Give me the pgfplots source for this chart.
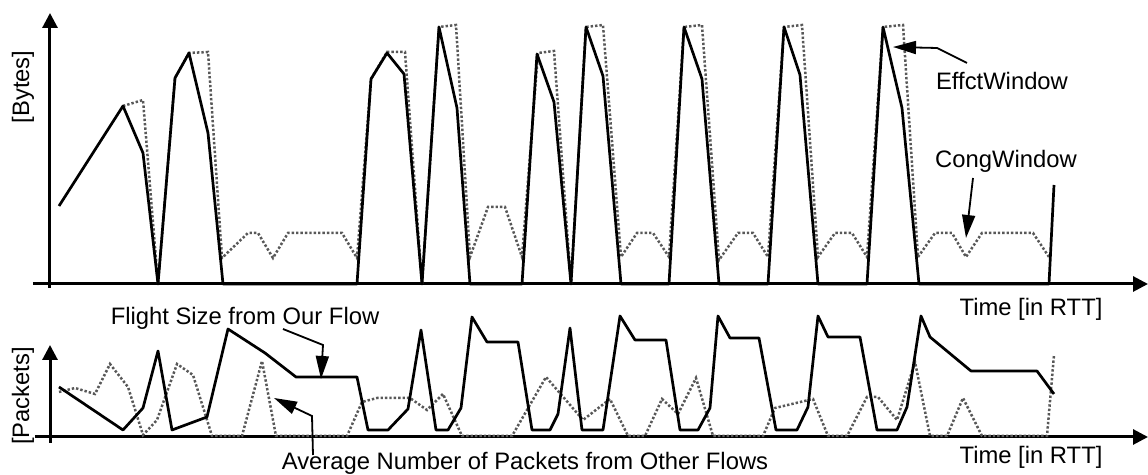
\documentclass[border=0pt]{standalone}
\usepackage{fontspec}
\setmainfont{Liberation Sans}
\usepackage{pgfplots}
\pgfplotsset{compat=1.18}
\usetikzlibrary{arrows.meta}

\definecolor{cwgray}{RGB}{88,88,88}

\pgfplotsset{
  sketch/.style={
    x=0.5pt, y=0.5pt,
    axis lines=middle,
    axis line style={line width=1.5pt, -{Triangle[length=7.5pt,width=7.5pt]}},
    xtick=\empty, ytick=\empty,
    clip=false,
    anchor=south west,
  },
}
\tikzset{
  eff/.style={black, line width=1.35pt, line join=round},
  cong/.style={cwgray, line width=1.25pt, dash pattern=on 1.2pt off 1pt},
  note/.style={font=\fontsize{11.9}{14}\selectfont},
  pointer/.style={line width=0.9pt, -{Triangle[length=11.5pt,width=6.5pt]}},
}

\begin{document}
\begin{tikzpicture}
\useasboundingbox (0,0) rectangle (574pt,237.5pt);

% top panel: windows in bytes
\begin{axis}[sketch, at={(16.5pt,93.5pt)},
    xmin=-17, xmax=1098, ymin=-4, ymax=271]
\addplot[cong] coordinates {
 (73,178) (93,184) (108,0) (125,206) (139,231) (158,232) (172,26) (198,51) (208,51)
 (223,26) (238,51) (292,51) (307,26) (321,205) (337,232) (355,232) (372,0) (389,257)
 (406,259) (420,27) (438,77) (455,77) (472,27) (488,231) (504,233) (521,0) (536,257)
 (553,259) (571,27) (587,51) (603,51) (619,27) (634,257) (652,259) (669,24) (688,51)
 (703,51) (718,27) (734,257) (752,259) (768,27) (785,51) (802,51) (817,27) (833,257)
 (853,259) (868,27) (885,51) (902,51) (916,27) (932,51) (983,51) (999,27)};
\addplot[eff] coordinates {
 (9,78) (73,178) (93,131) (108,0) (125,206) (139,231) (158,151) (173,0) (307,0)
 (321,205) (337,231) (354,210) (372,0) (389,257) (407,176) (420,0) (472,0) (487,230)
 (504,182) (521,0) (536,257) (553,208) (571,0) (619,0) (634,257) (652,205) (669,0)
 (718,0) (734,257) (750,209) (768,0) (817,0) (833,257) (852,176) (869,0) (999,0)
 (1004,99)};
\node[note] at (axis cs:952,203) {EffctWindow};
\draw[pointer] (axis cs:917,221) -- (axis cs:887,236) -- (axis cs:843,237);
\node[note] at (axis cs:956,123) {CongWindow};
\draw[pointer] (axis cs:923,106) -- (axis cs:916,46);
\node[note] at (axis cs:981,-25) {Time [in RTT]};
\node[note, rotate=90] at (axis cs:-27,197) {[Bytes]};
\end{axis}

% bottom panel: packets in flight
\begin{axis}[sketch, at={(17.5pt,16pt)},
    xmin=-15, xmax=1098, ymin=-6, ymax=92]
\addplot[cong] coordinates {
 (9,45) (25,49) (45,43) (60,73) (78,50) (93,2) (107,17) (127,73) (143,62) (162,1)
 (192,1) (212,76) (226,1) (297,1) (312,35) (327,39) (360,39) (377,27) (393,43) (412,1)
 (462,1) (496,60) (533,17) (560,38) (578,1) (595,1) (612,38) (628,23) (646,59) (663,1)
 (713,1) (725,29) (763,38) (778,1) (797,1) (817,40) (828,40) (847,17) (865,75) (880,1)
 (897,1) (913,39) (932,1) (997,1) (1004,82)};
\addplot[eff] coordinates {
 (9,50) (73,7) (93,29) (108,86) (122,7) (157,20) (178,108) (215,84) (246,60) (307,60)
 (318,7) (338,7) (358,28) (371,107) (386,7) (398,7) (411,29) (422,120) (437,95)
 (468,95) (482,7) (500,7) (508,23) (520,109) (532,7) (553,7) (570,121) (585,97)
 (616,97) (630,7) (648,7) (660,29) (668,121) (680,99) (709,99) (726,7) (747,7)
 (758,30) (768,121) (778,100) (810,100) (827,7) (847,7) (857,30) (871,121) (880,100)
 (921,66) (987,66) (1004,43)};
\node[note] at (axis cs:195,119) {Flight Size from Our Flow};
\draw[pointer] (axis cs:233,108) -- (axis cs:273,92) -- (axis cs:271,58);
\node[note] at (axis cs:475,-26) {Average Number of Packets from Other Flows};
\draw[pointer] (axis cs:263,-18) -- (axis cs:262,21) -- (axis cs:224,39);
\node[note] at (axis cs:981,-20) {Time [in RTT]};
\node[note, rotate=90] at (axis cs:-27,41) {[Packets]};
\end{axis}
\end{tikzpicture}
\end{document}
